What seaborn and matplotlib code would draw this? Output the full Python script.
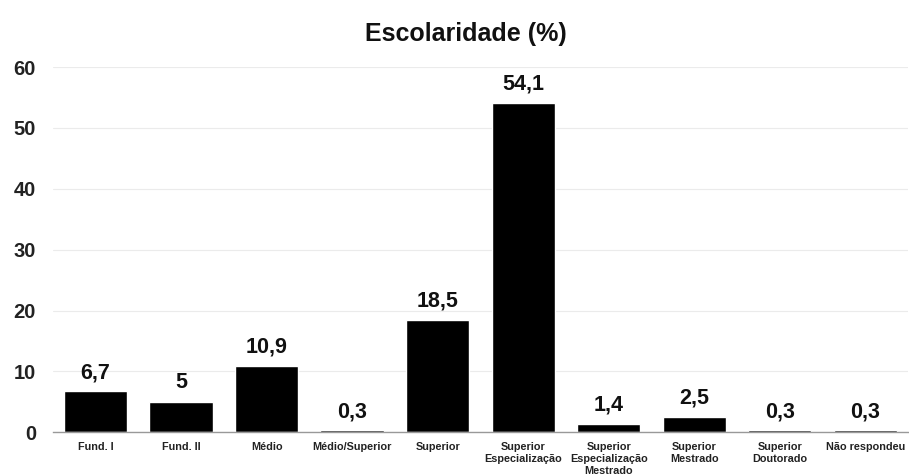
import matplotlib
matplotlib.use("Agg")
import matplotlib.pyplot as plt
import seaborn as sns
import pandas as pd

categories = ["Fund. I", "Fund. II", "Médio", "Médio/Superior", "Superior",
              "Superior\nEspecialização", "Superior\nEspecialização\nMestrado",
              "Superior\nMestrado", "Superior\nDoutorado", "Não respondeu"]
values = [6.7, 5, 10.9, 0.3, 18.5, 54.1, 1.4, 2.5, 0.3, 0.3]
labels = ["6,7", "5", "10,9", "0,3", "18,5", "54,1", "1,4", "2,5", "0,3", "0,3"]
yticks = [0, 10, 20, 30, 40, 50, 60]

sns.set_theme(style="white")
plt.rcParams['font.family'] = ['Liberation Sans', 'DejaVu Sans']

df = pd.DataFrame({"cat": categories, "val": values})
fig = plt.figure(figsize=(9.09, 4.76), dpi=100)
ax = fig.add_axes([0.058, 0.092, 0.941, 0.767])
sns.barplot(data=df, x="cat", y="val", color="black", width=0.74, ax=ax, saturation=1)
for p, lab in zip(ax.patches, labels):
    ax.annotate(lab, (p.get_x() + p.get_width() / 2, p.get_height()),
                xytext=(0, 6), textcoords="offset points", ha="center", va="bottom",
                fontsize=15.5, fontweight="bold", color="#111111")
ax.set_ylim(0, 60)
ax.set_yticks(yticks)
ax.set_yticklabels([str(t) for t in yticks], fontsize=14.5, fontweight="bold")
ax.tick_params(axis="x", labelsize=7.8, pad=7, length=0)
ax.tick_params(axis="y", length=0, pad=12)
for t in ax.get_xticklabels():
    t.set_fontweight("bold")
    t.set_linespacing(1.25)
    t.set_color("#222222")
for t in ax.get_yticklabels():
    t.set_color("#222222")
ax.set_xlabel("")
ax.set_ylabel("")
ax.yaxis.grid(True, color="#ebebeb", linewidth=0.8)
ax.set_axisbelow(True)
for s in ["top", "right", "left"]:
    ax.spines[s].set_visible(False)
ax.spines["bottom"].set_color("#999999")
ax.spines["bottom"].set_linewidth(1)
fig.text(0.513, 0.928, "Escolaridade (%)", ha="center", va="center",
         fontsize=18, fontweight="bold", color="#111111")
fig.savefig("out.png", dpi=100, facecolor="white")
